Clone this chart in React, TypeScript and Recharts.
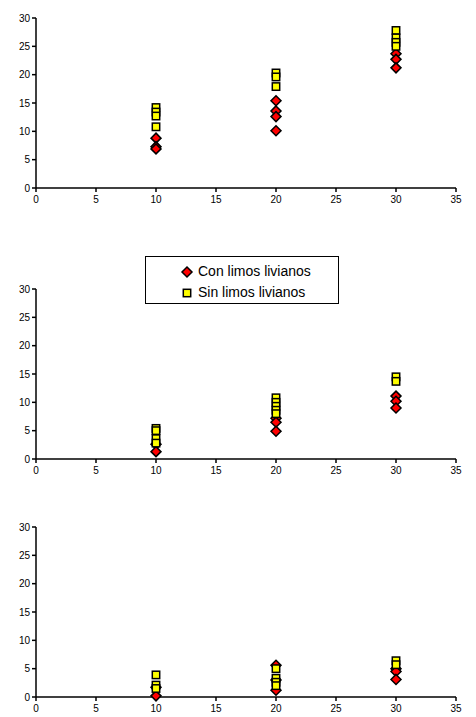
import React from 'react';
import { ScatterChart, Scatter, XAxis, YAxis, Legend } from 'recharts';

// x levels shared by all three panels
const xLevels = [10, 20, 30];
const xTicks = [0, 5, 10, 15, 20, 25, 30, 35];
const yTicks = [0, 5, 10, 15, 20, 25, 30];

// values per x level
const conTop = [[8.8, 7.3, 6.9], [15.4, 13.6, 12.6, 10.1], [23.7, 22.7, 21.2]];
const sinTop = [[14.2, 13.4, 12.7, 10.8], [20.3, 19.6, 17.9], [27.8, 26.5, 25.7, 25.0]];

const conMid = [[2.6, 1.3], [7.2, 6.5, 4.9], [11.1, 10.2, 9.0]];
const sinMid = [[5.4, 5.0, 3.6, 2.8], [10.8, 10.0, 9.3, 8.6, 8.0], [14.5, 13.7]];

const conLow = [[1.7, 0.2], [5.6, 3.0, 1.2], [5.0, 4.5, 3.1]];
const sinLow = [[3.9, 2.1, 1.5], [5.0, 3.3, 2.6, 2.0], [6.4, 5.7]];

const toPoints = (groups: number[][]) =>
  groups.flatMap((ys, i) => ys.map((y) => ({ x: xLevels[i], y })));

const font = '"Liberation Sans", Arial, sans-serif';

const Diamond = (props: any) => {
  const { cx, cy } = props;
  const r = 5;
  return (
    <polygon
      points={`${cx},${cy - r} ${cx + r},${cy} ${cx},${cy + r} ${cx - r},${cy}`}
      fill="#FF0000"
      stroke="#000"
      strokeWidth={1.5}
    />
  );
};

const Square = (props: any) => {
  const { cx, cy } = props;
  const s = 3.7;
  return (
    <rect x={cx - s} y={cy - s} width={2 * s} height={2 * s} fill="#FFFF00" stroke="#000" strokeWidth={1.5} />
  );
};

const LegendBox = () => (
  <div
    style={{
      border: '1px solid #000',
      background: '#fff',
      width: 194,
      height: 48,
      boxSizing: 'border-box',
      fontFamily: font,
      fontSize: 14,
      color: '#000',
      paddingLeft: 34,
      paddingTop: 4,
      lineHeight: '21px',
    }}
  >
    <div style={{ display: 'flex', alignItems: 'center' }}>
      <svg width={14} height={14} style={{ marginRight: 4 }}>
        <Diamond cx={7} cy={7} />
      </svg>
      Con limos livianos
    </div>
    <div style={{ display: 'flex', alignItems: 'center' }}>
      <svg width={14} height={14} style={{ marginRight: 4 }}>
        <Square cx={7} cy={7} />
      </svg>
      Sin limos livianos
    </div>
  </div>
);

const axisProps = {
  stroke: '#000',
  strokeWidth: 1.5,
  tickSize: 4,
  tick: { fill: '#000', fontSize: 10, fontFamily: font },
};

const Panel = ({ top, marginTop, con, sin, legend }: any) => (
  <div style={{ position: 'absolute', left: 0, top }}>
    <ScatterChart
      width={476}
      height={marginTop + 192}
      margin={{ top: marginTop, right: 20, bottom: 0, left: 0 }}
    >
      <XAxis
        type="number"
        dataKey="x"
        domain={[0, 35]}
        ticks={xTicks}
        height={22}
        interval={0}
        tickMargin={4}
        {...axisProps}
      />
      <YAxis
        type="number"
        dataKey="y"
        domain={[0, 30]}
        ticks={yTicks}
        width={36}
        interval={0}
        tickMargin={2}
        {...axisProps}
      />
      {legend && (
        <Legend
          layout="horizontal"
          verticalAlign="middle"
          align="center"
          content={() => <LegendBox />}
          wrapperStyle={{ top: 16, left: 145, width: 194 }}
        />
      )}
      <Scatter name="Con limos livianos" data={toPoints(con)} shape={Diamond} isAnimationActive={false} />
      <Scatter name="Sin limos livianos" data={toPoints(sin)} shape={Square} isAnimationActive={false} />
    </ScatterChart>
  </div>
);

export default function App() {
  return (
    <div style={{ position: 'absolute', left: 0, top: 0, width: 476, height: 717, background: '#fff' }}>
      <Panel top={0} marginTop={18} con={conTop} sin={sinTop} />
      <Panel top={240} marginTop={49} con={conMid} sin={sinMid} legend />
      <Panel top={509} marginTop={18} con={conLow} sin={sinLow} />
    </div>
  );
}
